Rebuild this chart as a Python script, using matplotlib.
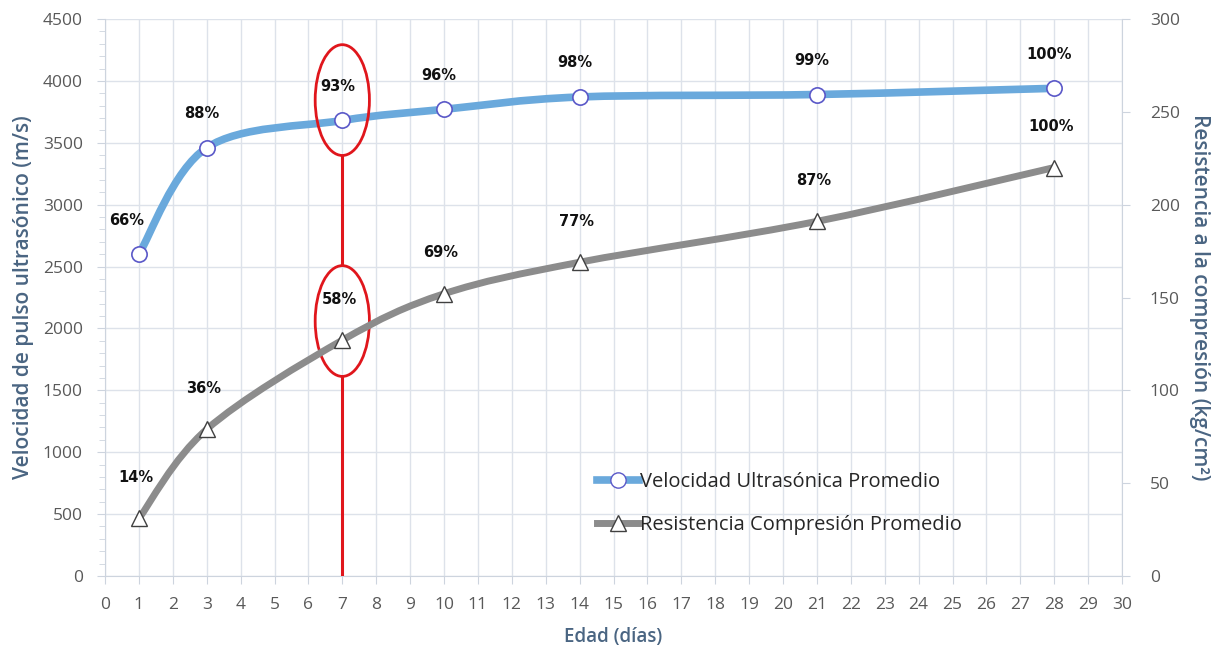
import matplotlib
matplotlib.use("Agg")
import matplotlib.pyplot as plt
from matplotlib.path import Path
from matplotlib.patches import PathPatch, Ellipse
from matplotlib.lines import Line2D

# Age of the specimens (days) and the two measured averages
dias = [1, 3, 7, 10, 14, 21, 28]
velocidad = [2600, 3460, 3680, 3770, 3870, 3890, 3940]     # m/s
resistencia = [31, 79, 127, 152, 169, 191, 220]            # kg/cm2

etiquetas_vel = ["%d%%" % round(v / velocidad[-1] * 100) for v in velocidad]
etiquetas_res = ["%d%%" % round(r / resistencia[-1] * 100) for r in resistencia]

AZUL = "#6aa9dc"
GRIS = "#8c8c8c"
ROJO = "#e0161c"
TXT = "#595959"
TITULO = "#4a6582"
GRID = "#dde2ea"
EJE = "#cdd4de"

plt.rcParams["font.family"] = ["Open Sans", "DejaVu Sans"]


def suave(x, y):
    # Excel-style smoothed line: cubic Bezier through every point
    pts = list(zip(x, y))
    verts = [pts[0]]
    codes = [Path.MOVETO]
    n = len(pts)
    for i in range(n - 1):
        p0 = pts[i - 1] if i > 0 else pts[i]
        p1 = pts[i]
        p2 = pts[i + 1]
        p3 = pts[i + 2] if i + 2 < n else pts[i + 1]
        c1 = (p1[0] + (p2[0] - p0[0]) / 6, p1[1] + (p2[1] - p0[1]) / 6)
        c2 = (p2[0] - (p3[0] - p1[0]) / 6, p2[1] - (p3[1] - p1[1]) / 6)
        verts += [c1, c2, p2]
        codes += [Path.CURVE4] * 3
    return Path(verts, codes)


fig = plt.figure(figsize=(12.2, 6.45), dpi=100)
ax = fig.add_axes([105 / 1220, 69 / 645, 1017 / 1220, 557 / 645])
ax2 = ax.twinx()

ax.set_xlim(0, 30)
ax.set_ylim(0, 4500)
ax2.set_ylim(0, 300)

ax.set_xticks(range(0, 31))
ax.set_yticks(range(0, 4501, 500))
ax.set_yticks(range(0, 4501, 100), minor=True)
ax2.set_yticks(range(0, 301, 50))
ax.grid(True, which="major", color=GRID, lw=1)
ax.set_axisbelow(True)

for a in (ax, ax2):
    for s in a.spines.values():
        s.set_visible(False)
ax.spines["left"].set_visible(True)
ax.spines["bottom"].set_visible(True)
ax2.spines["right"].set_visible(True)
for s in (ax.spines["left"], ax.spines["bottom"], ax2.spines["right"]):
    s.set_color(EJE)

ax.tick_params(axis="both", which="both", colors=EJE, labelcolor=TXT,
               labelsize=12.5, length=6)
ax.tick_params(axis="y", which="major", pad=10)
ax.tick_params(axis="y", which="minor", length=4)
ax.tick_params(axis="x", pad=9)
ax2.tick_params(axis="y", colors=EJE, labelcolor=TXT, labelsize=12.5, length=6,
                pad=14)

ax.set_xlabel("Edad (días)", fontsize=13.5, color=TITULO, fontweight="semibold",
              labelpad=10)
ax.set_ylabel("Velocidad de pulso ultrasónico (m/s)", fontsize=15, color=TITULO,
              fontweight="semibold", labelpad=6)
ax2.set_ylabel("Resistencia a la compresión (kg/cm²)", fontsize=15, color=TITULO,
               fontweight="semibold", rotation=270, labelpad=22)

# smoothed curves
ax.add_patch(PathPatch(suave(dias, velocidad), fill=False, edgecolor=AZUL, lw=5.5,
                       capstyle="round", zorder=3))
ax2.add_patch(PathPatch(suave(dias, resistencia), fill=False, edgecolor=GRIS, lw=5,
                        capstyle="round", zorder=3))
ax.plot(dias, velocidad, ls="none", marker="o", ms=11, mfc="white", mec="#5a58c8",
        mew=1.2, zorder=4)
ax2.plot(dias, resistencia, ls="none", marker="^", ms=12, mfc="white", mec="#404040",
         mew=1.0, zorder=4)

# data labels
for i, (d, v) in enumerate(zip(dias, velocidad)):
    dx = -12 if i == 0 else -5
    ax.annotate(etiquetas_vel[i], (d, v), xytext=(dx, 34), textcoords="offset pixels",
                ha="center", va="center", fontsize=10.5, fontweight="bold",
                family="DejaVu Sans", color="#111111", zorder=5)
for i, (d, r) in enumerate(zip(dias, resistencia)):
    ax2.annotate(etiquetas_res[i], (d, r), xytext=(-3, 41), textcoords="offset pixels",
                 ha="center", va="center", fontsize=10.5, fontweight="bold",
                 family="DejaVu Sans", color="#111111", zorder=5)

# day-7 highlight
ax.add_patch(Ellipse((7, 3845), 1.6, 895, fill=False, edgecolor=ROJO, lw=2, zorder=6))
ax.add_patch(Ellipse((7, 2060), 1.6, 895, fill=False, edgecolor=ROJO, lw=2, zorder=6))
ax.plot([7, 7], [0, 2060 - 447.5], color=ROJO, lw=2.2, zorder=6, solid_capstyle="butt")
ax.plot([7, 7], [2060 + 447.5, 3845 - 447.5], color=ROJO, lw=2.2, zorder=6,
        solid_capstyle="butt")

handles = [
    Line2D([], [], color=AZUL, lw=5.5, marker="o", ms=11, mfc="white", mec="#5a58c8"),
    Line2D([], [], color=GRIS, lw=5, marker="^", ms=12, mfc="white", mec="#404040"),
]
ax2.legend(handles, ["Velocidad Ultrasónica Promedio", "Resistencia Compresión Promedio"],
           loc="upper left", bbox_to_anchor=(478 / 1017, 118 / 557), frameon=False,
           fontsize=14.5, handlelength=2.1, handletextpad=0.05, labelspacing=1.15,
           labelcolor="#262626", borderpad=0.2)

fig.savefig("out.png", dpi=100)
